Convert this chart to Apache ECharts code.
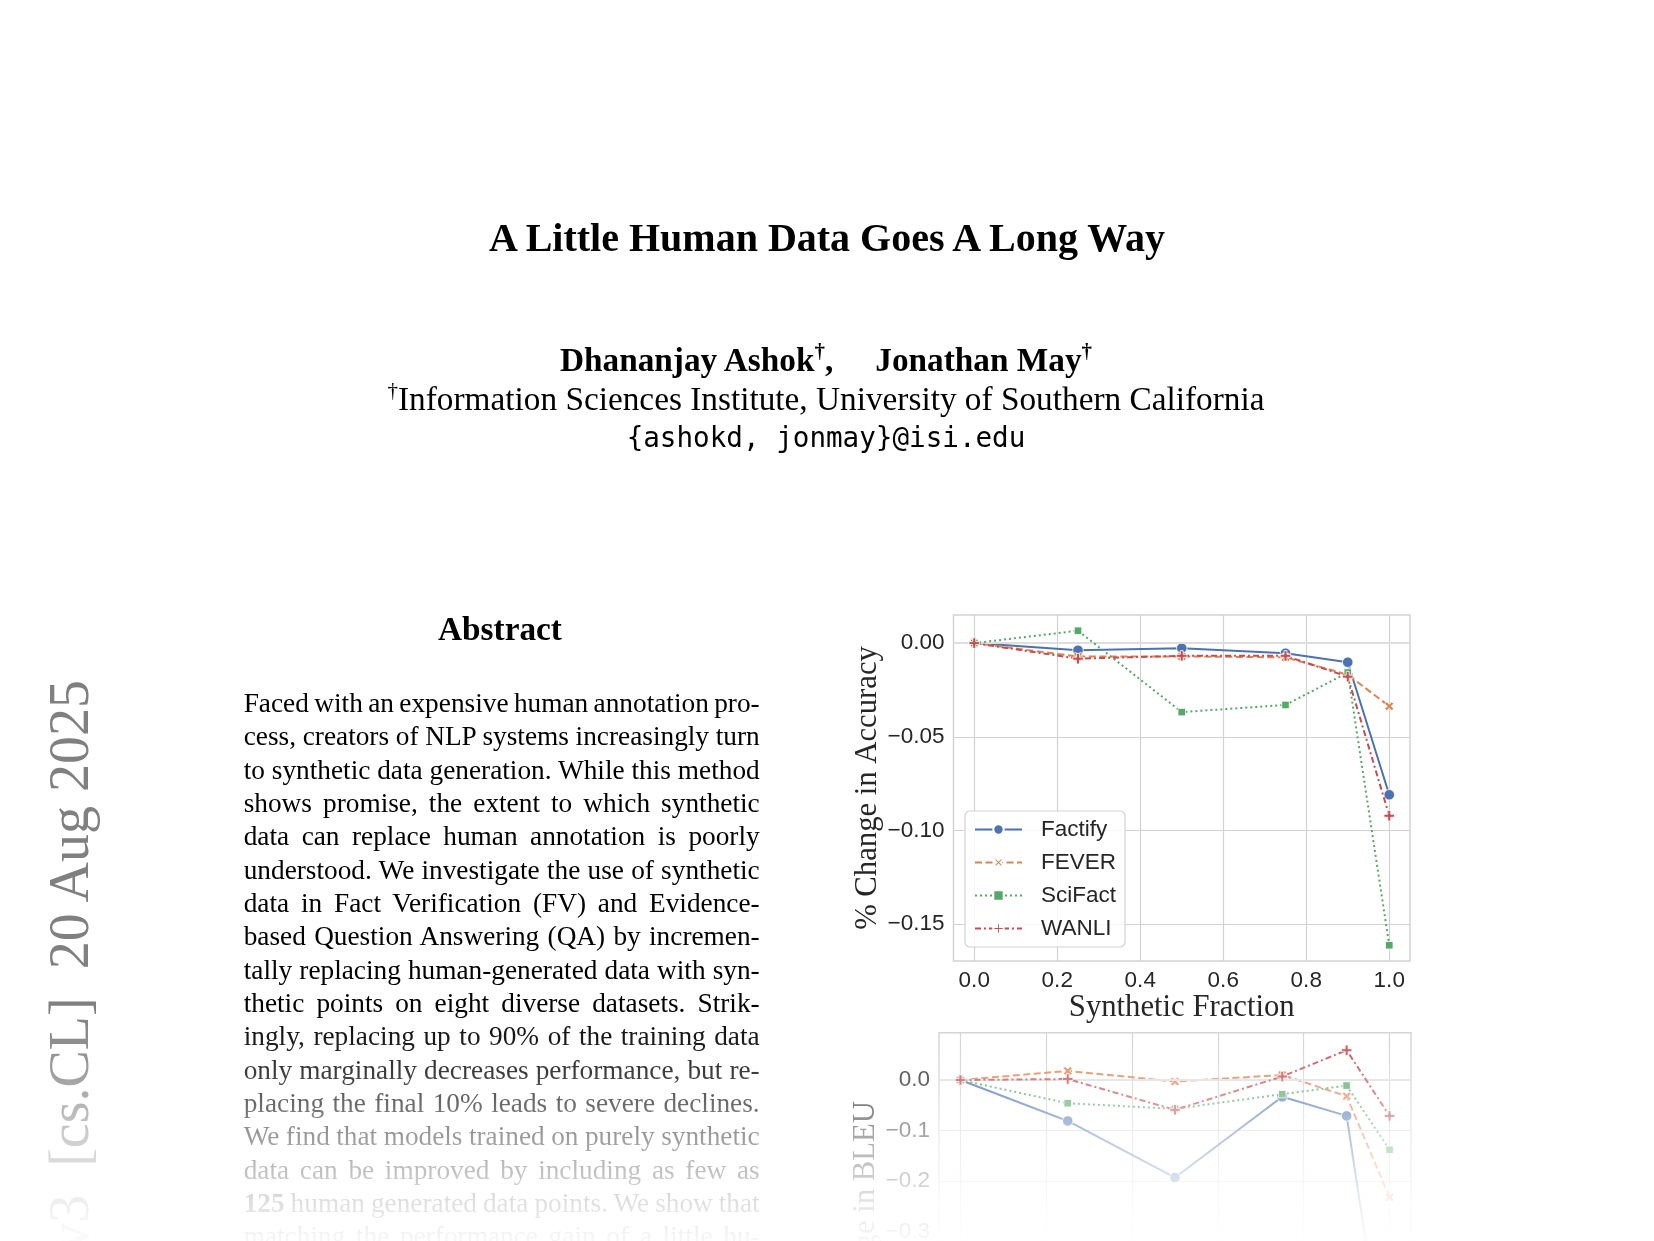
<!DOCTYPE html>
<html><head><meta charset="utf-8">
<script src="https://cdn.jsdelivr.net/npm/echarts@6/dist/echarts.min.js"></script>
<style>
html,body{margin:0;padding:0;width:1654px;height:1241px;overflow:hidden;background:#fff;}
#page{position:relative;width:1654px;height:1241px;overflow:hidden;background:#fff;}
#chart{position:absolute;left:0;top:0;width:1654px;height:1470px;}
#txt{position:absolute;left:0;top:0;}
#fade{position:absolute;left:0;top:1000px;width:1654px;height:241px;pointer-events:none;
background:linear-gradient(to bottom,rgba(255,255,255,0) 0px,rgba(255,255,255,0) 12px,rgba(255,255,255,0.22) 69px,rgba(255,255,255,0.4) 101px,rgba(255,255,255,0.6) 135px,rgba(255,255,255,0.74) 168px,rgba(255,255,255,0.87) 201px,rgba(255,255,255,0.97) 241px);}
text{font-family:"Liberation Serif","Times New Roman",serif;fill:#000;}
</style></head>
<body><div id="page">
<div id="chart"></div>
<svg id="txt" width="1654" height="1241" xmlns="http://www.w3.org/2000/svg">
  <text x="827" y="251" text-anchor="middle" font-size="40" font-weight="bold">A Little Human Data Goes A Long Way</text>
  <text x="826" y="371" text-anchor="middle" font-size="33.3" font-weight="bold">Dhananjay Ashok<tspan font-size="21" dy="-13">†</tspan><tspan dy="13">,</tspan><tspan dx="42">Jonathan May</tspan><tspan font-size="21" dy="-13">†</tspan></text>
  <text x="826" y="410" text-anchor="middle" font-size="33.3"><tspan font-size="21" dy="-13">†</tspan><tspan dy="13">Information Sciences Institute, University of Southern California</tspan></text>
  <text x="826" y="447" text-anchor="middle" font-size="27.6" style="font-family:'DejaVu Sans Mono',monospace">{ashokd, jonmay}@isi.edu</text>
  <text x="500" y="640" text-anchor="middle" font-size="33.3" font-weight="bold">Abstract</text>
  <g id="abs" font-size="27.3"></g>
  <text transform="translate(88,680) rotate(-90)" text-anchor="end" font-size="56" style="fill:#808080;white-space:pre">v3  [cs.CL]  20 Aug 2025</text>
</svg>
<div id="fade"></div>
</div>
<script>
// ---------- data ----------
const xVals = [0, 0.25, 0.5, 0.75, 0.9, 1.0];
const seriesNames = ['Factify', 'FEVER', 'SciFact', 'WANLI'];

const accFactify = [0, -0.0038, -0.0027, -0.0054, -0.0102, -0.0809];
const accFever   = [0, -0.0072, -0.0071, -0.0076, -0.0168, -0.0337];
const accSciFact = [0,  0.0066, -0.0368, -0.0330, -0.0157, -0.1612];
const accWanli   = [0, -0.0083, -0.0068, -0.0068, -0.0179, -0.0921];

const bleuFactify = [0, -0.081, -0.193, -0.033, -0.071, -0.630];
const bleuFever   = [0,  0.018, -0.003,  0.010, -0.032, -0.232];
const bleuSciFact = [0, -0.046, -0.057, -0.028, -0.011, -0.138];
const bleuWanli   = [0,  0.002, -0.059,  0.007,  0.059, -0.071];

const xTickVals = [0, 0.2, 0.4, 0.6, 0.8, 1.0];
const accTickVals = [0, -0.05, -0.10, -0.15];
const bleuTickVals = [0, -0.1, -0.2, -0.3, -0.4, -0.5, -0.6];

const accLabel = '% Change in Accuracy';
const bleuLabel = '% Change in BLEU';
const xLabel = 'Synthetic Fraction';

const abstractLines = [
  'Faced with an expensive human annotation pro-',
  'cess, creators of NLP systems increasingly turn',
  'to synthetic data generation. While this method',
  'shows promise, the extent to which synthetic',
  'data can replace human annotation is poorly',
  'understood. We investigate the use of synthetic',
  'data in Fact Verification (FV) and Evidence-',
  'based Question Answering (QA) by incremen-',
  'tally replacing human-generated data with syn-',
  'thetic points on eight diverse datasets. Strik-',
  'ingly, replacing up to 90% of the training data',
  'only marginally decreases performance, but re-',
  'placing the final 10% leads to severe declines.',
  'We find that models trained on purely synthetic',
  'data can be improved by including as few as',
  '**125** human generated data points. We show that',
  'matching the performance gain of a little hu-'
];

// ---------- abstract text ----------
(function(){
  const g = document.getElementById('abs');
  const NS = 'http://www.w3.org/2000/svg';
  abstractLines.forEach((line, i) => {
    const t = document.createElementNS(NS, 'text');
    t.setAttribute('x', 243.7);
    t.setAttribute('y', 712 + i * 33.33);
    const parts = line.split('**');
    parts.forEach((p, k) => {
      if (!p) return;
      const s = document.createElementNS(NS, 'tspan');
      if (k % 2 === 1) s.setAttribute('font-weight', 'bold');
      s.textContent = p;
      t.appendChild(s);
    });
    g.appendChild(t);
    const w = t.getComputedTextLength();
    const n = (t.textContent.match(/ /g) || []).length;
    if (n > 0) t.style.wordSpacing = ((516 - w) / n) + 'px';
  });
})();

// ---------- chart ----------
const PLUS = 'path://M3.6,0H6.4V3.6H10V6.4H6.4V10H3.6V6.4H0V3.6H3.6Z';
const looks = [
  {color: '#4c72b0', dash: 'solid', symbol: 'circle', size: 10.5, rotate: 0},
  {color: '#dd8452', dash: [7, 3.5], symbol: PLUS, size: 10, rotate: 45},
  {color: '#55a868', dash: [2, 3], symbol: 'rect', size: 7.5, rotate: 0},
  {color: '#c44e52', dash: [6, 3, 2, 3], symbol: PLUS, size: 10.5, rotate: 0}
];
const accData = [accFactify, accFever, accSciFact, accWanli];
const bleuData = [bleuFactify, bleuFever, bleuSciFact, bleuWanli];

const tickFont = {fontSize: 22.5, color: '#262626', fontFamily: 'Liberation Sans'};
const nameFont = {fontSize: 30.7, color: '#262626', fontFamily: 'Liberation Serif'};
const gridLine = {show: true, lineStyle: {color: '#d2d2d2', width: 1.2}};
const minus = (v, d) => (v < -1e-9 ? '\u2212' : '') + Math.abs(v).toFixed(d);

function pad(arr) {
  const mx = Math.max(...arr), mn = Math.min(...arr), r = mx - mn;
  return [mn - 0.05 * r, mx + 0.05 * r];
}
const accExt = pad([].concat(...accData));
const bleuExt = pad([].concat(...bleuData));

const series = [];
[[accData, 0], [bleuData, 1]].forEach(([set, gi]) => {
  series.push({
    type: 'line', name: '_zero' + gi, xAxisIndex: gi, yAxisIndex: gi, data: [], z: 1, silent: true,
    markLine: {silent: true, symbol: 'none', label: {show: false}, animation: false,
      lineStyle: {color: '#dedede', width: 2.2, type: 'solid'}, data: [{yAxis: 0}]}
  });
  set.forEach((vals, k) => {
    const L = looks[k];
    series.push({
      type: 'line', name: seriesNames[k], xAxisIndex: gi, yAxisIndex: gi, z: 3 + k,
      data: xVals.map((x, i) => [x, vals[i]]),
      symbol: L.symbol, symbolSize: L.size, symbolRotate: L.rotate, showAllSymbol: true,
      lineStyle: {color: L.color, width: 2, type: L.dash},
      itemStyle: {color: L.color, borderColor: '#ffffff', borderWidth: 0.8}
    });
  });
});

function xAxis(gi) {
  return {
    gridIndex: gi, type: 'value', min: -0.05, max: 1.05,
    axisLine: {show: false}, axisTick: {show: false, customValues: xTickVals},
    axisLabel: Object.assign({customValues: xTickVals, margin: 8, formatter: v => v.toFixed(1)}, tickFont),
    splitLine: gridLine,
    name: xLabel, nameLocation: 'middle', nameGap: 31, nameTextStyle: nameFont
  };
}
function yAxis(gi, ext, ticks, dec, label, gap) {
  return {
    gridIndex: gi, type: 'value', min: ext[0], max: ext[1],
    axisLine: {show: false}, axisTick: {show: false, customValues: ticks},
    axisLabel: Object.assign({customValues: ticks, margin: 9, formatter: v => minus(v, dec)}, tickFont),
    splitLine: gridLine,
    name: label, nameLocation: 'middle', nameGap: gap, nameTextStyle: nameFont
  };
}

const chart = echarts.init(document.getElementById('chart'), null, {renderer: 'canvas'});
chart.setOption({
  animation: false,
  backgroundColor: 'transparent',
  grid: [
    {left: 953.5, top: 615, width: 456.5, height: 346, show: true, borderColor: '#d2d2d2', borderWidth: 1.5, containLabel: false, outerBoundsMode: 'none'},
    {left: 939, top: 1032.8, width: 472, height: 383, show: true, borderColor: '#d2d2d2', borderWidth: 1.5, containLabel: false, outerBoundsMode: 'none'}
  ],
  xAxis: [xAxis(0), xAxis(1)],
  yAxis: [
    yAxis(0, accExt, accTickVals, 2, accLabel, 69),
    yAxis(1, bleuExt, bleuTickVals, 1, bleuLabel, 55)
  ],
  legend: {
    data: seriesNames, orient: 'vertical', left: 965, top: 811,
    itemWidth: 47, itemHeight: 13, itemGap: 10, padding: [7, 9, 7, 9],
    backgroundColor: 'rgba(255,255,255,0.85)', borderColor: '#d2d2d2', borderWidth: 1.2, borderRadius: 5,
    textStyle: {fontSize: 22.5, color: '#262626', fontFamily: 'Liberation Sans', lineHeight: 23, padding: [0, 0, 0, 14]}
  },
  series: series
});
</script>
</body></html>
